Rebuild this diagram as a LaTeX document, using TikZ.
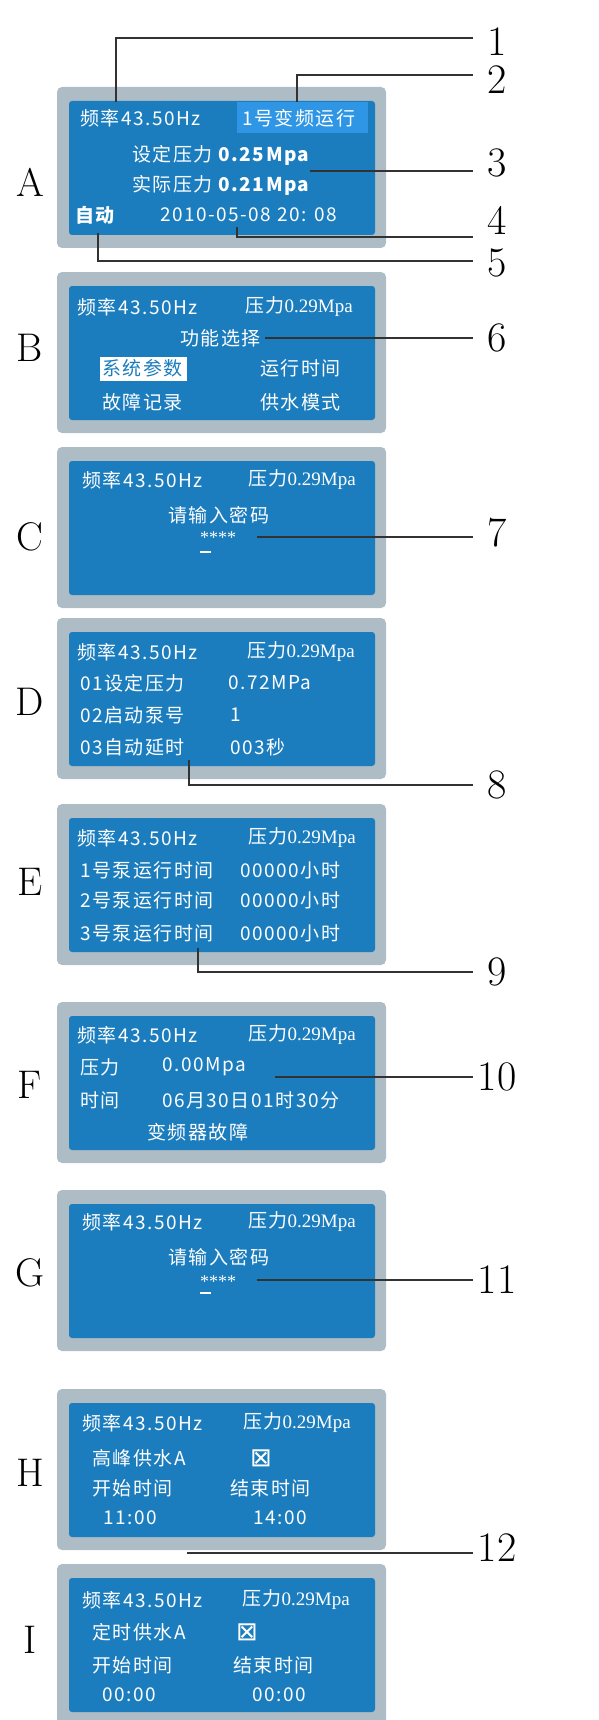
\documentclass[tikz,border=0pt]{standalone}
\usepackage{fontspec}
\usepackage{tikz}
\newfontfamily\cjk[LetterSpace=8]{Noto Sans CJK SC}
\newfontfamily\tms{Liberation Serif}
\newfontfamily\djv{DejaVu Sans}
\definecolor{lcdblue}{RGB}{27,125,190}
\definecolor{lcdgray}{RGB}{174,188,198}
\definecolor{lcdhigh}{RGB}{46,150,228}
\definecolor{leader}{RGB}{50,50,50}

\begin{document}
\begin{tikzpicture}[x=1pt,y=-1pt]
\tikzstyle{every node}+=[inner sep=0pt]
\tikzstyle{txt}=[anchor=west, text=white, font=\cjk\fontsize{19}{19}\selectfont]
\tikzstyle{stars}=[txt, font=\tms\fontsize{18}{18}\selectfont]
\tikzstyle{tick}=[txt, font=\djv\fontsize{26}{26}\selectfont]
\tikzstyle{tag}=[font=\fontsize{40}{40}\selectfont]
\tikzstyle{num}=[font=\fontsize{42}{42}\selectfont, minimum width=48pt]
\tikzstyle{lead}=[leader, line width=1.3pt]
\useasboundingbox (0,0) rectangle (598,1720);
\clip (0,0) rectangle (598,1720);
% screens and their letters
\foreach \t/\l/\ly in {87/A/182, 272/B/348, 447/C/537, 618/D/702, 804/E/882, 1002/F/1085, 1190/G/1273, 1389/H/1473, 1564/I/1640} {
  \fill [lcdgray, rounded corners=5pt] (57,\t) rectangle (386,\t+161);
  \fill [lcdblue, rounded corners=3pt] (69,\t+14) rectangle (375,\t+148);
  \node [tag] (tag\l) at (30,\ly) {\l};
}
% A
\fill [lcdhigh] (237,102) rectangle (368,133);
\node [txt] (a1) at (80,118) {频率43.50Hz};
\node [txt] (a2) at (242,118) {1号变频运行};
\node [txt] (a3) at (132,155) {设定压力 {\bfseries 0.25Mpa}};
\node [txt] (a4) at (132,185) {实际压力 {\bfseries 0.21Mpa}};
\node [txt] (a5) at (75,215) {\bfseries 自动};
\node [txt] (a6) at (160,215) {2010-05-08 20: 08};
% B
\node [txt] (b1) at (77,307) {频率43.50Hz};
\node [txt] (b2) at (245,307) {压力{\tms 0.29Mpa}};
\node [txt] (b3) at (180,338) {功能选择};
\fill [white] (100,357) rectangle (187,381);
\node [txt, text=lcdblue] (b4) at (102,368) {系统参数};
\node [txt] (b5) at (260,368) {运行时间};
\node [txt] (b6) at (102,402) {故障记录};
\node [txt] (b7) at (260,402) {供水模式};
% C
\node [txt] (c1) at (82,480) {频率43.50Hz};
\node [txt] (c2) at (248,480) {压力{\tms 0.29Mpa}};
\node [txt] (c3) at (168,515) {请输入密码};
\node [stars] (c4) at (200,538) {****};
\draw [white, line width=1.2pt] (200,552) -- (211,552);
% D
\node [txt] (d1) at (77,652) {频率43.50Hz};
\node [txt] (d2) at (247,652) {压力{\tms 0.29Mpa}};
\node [txt] (d3) at (80,683) {01设定压力};
\node [txt] (d4) at (228,683) {0.72MPa};
\node [txt] (d5) at (80,715) {02启动泵号};
\node [txt] (d6) at (230,715) {1};
\node [txt] (d7) at (80,747) {03自动延时};
\node [txt] (d8) at (230,747) {003秒};
% E
\node [txt] (e1) at (77,838) {频率43.50Hz};
\node [txt] (e2) at (248,838) {压力{\tms 0.29Mpa}};
\node [txt] (e3) at (80,870) {1号泵运行时间};
\node [txt] (e4) at (240,870) {00000小时};
\node [txt] (e5) at (80,900) {2号泵运行时间};
\node [txt] (e6) at (240,900) {00000小时};
\node [txt] (e7) at (80,933) {3号泵运行时间};
\node [txt] (e8) at (240,933) {00000小时};
% F
\node [txt] (f1) at (77,1035) {频率43.50Hz};
\node [txt] (f2) at (248,1035) {压力{\tms 0.29Mpa}};
\node [txt] (f3) at (80,1067) {压力};
\node [txt] (f4) at (162,1067) {0.00Mpa};
\node [txt] (f5) at (80,1100) {时间};
\node [txt] (f6) at (162,1100) {06月30日01时30分};
\node [txt] (f7) at (147,1132) {变频器故障};
% G
\node [txt] (g1) at (82,1222) {频率43.50Hz};
\node [txt] (g2) at (248,1222) {压力{\tms 0.29Mpa}};
\node [txt] (g3) at (168,1257) {请输入密码};
\node [stars] (g4) at (200,1282) {****};
\draw [white, line width=1.2pt] (200,1293) -- (211,1293);
% H
\node [txt] (h1) at (82,1423) {频率43.50Hz};
\node [txt] (h2) at (243,1423) {压力{\tms 0.29Mpa}};
\node [txt] (h3) at (92,1458) {高峰供水A};
\node [tick] (h4) at (250,1458) {⊠};
\node [txt] (h5) at (92,1488) {开始时间};
\node [txt] (h6) at (230,1488) {结束时间};
\node [txt] (h7) at (103,1518) {11:00};
\node [txt] (h8) at (253,1518) {14:00};
% I
\node [txt] (i1) at (82,1600) {频率43.50Hz};
\node [txt] (i2) at (242,1600) {压力{\tms 0.29Mpa}};
\node [txt] (i3) at (92,1632) {定时供水A};
\node [tick] (i4) at (236,1632) {⊠};
\node [txt] (i5) at (92,1665) {开始时间};
\node [txt] (i6) at (233,1665) {结束时间};
\node [txt] (i7) at (102,1695) {00:00};
\node [txt] (i8) at (252,1695) {00:00};
% leaders and numbers
\foreach \i/\x/\y/\ny/\d in {1/116/102/42/4, 2/297/102/80/5, 3/310/171/163/-8, 4/237/227/220/-17, 5/98/233/263/2, 6/265/338/338/0, 7/257/537/533/-4, 8/189/760/785/0, 9/198/948/972/0, 10/275/1077/1077/0, 11/257/1280/1280/0, 12/187/1553/1548/-5} {
  \coordinate (pt\i) at (\x,\y);
  \node [num] (no\i) at (497,\ny) {\i};
  \draw [lead] (pt\i) |- ([yshift=\d]no\i.west);
}
\end{tikzpicture}
\end{document}
